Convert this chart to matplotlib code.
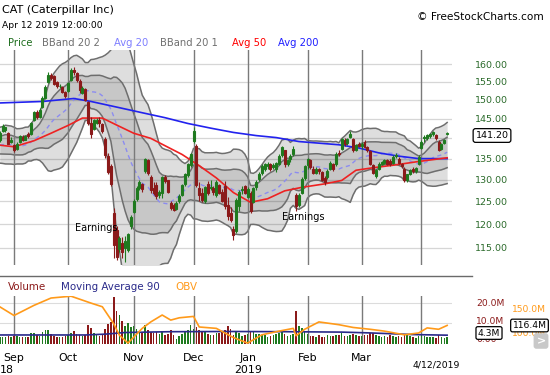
import numpy as np
import pandas as pd
import matplotlib
matplotlib.use('Agg')
import matplotlib.pyplot as plt
from matplotlib.lines import Line2D
from matplotlib.ticker import FixedLocator, NullLocator

W, H = 550, 375

# closes before the window, only used to seed the 20 day bands
lead_closes = [141.0, 139.6, 139.9, 140.2, 140.8, 141.6, 140.3, 138.5, 136.3, 134.6,
               136.0, 133.4, 136.6, 137.6, 138.0, 139.0, 137.8, 136.6, 138.2]

# daily OHLC, Aug 27 2018 .. Apr 12 2019
opens = [139.5, 143.2, 142.8, 141.4, 139.6, 138.3, 137.3, 139.0, 140.4, 139.7,
         141.2, 141.0, 144.8, 146.8, 145.6, 148.0, 150.5, 155.0, 156.0, 156.6,
         154.8, 153.8, 153.5, 151.0, 152.4, 155.5, 158.3, 157.4, 155.3, 152.0,
         153.0, 149.5, 143.8, 142.5, 144.0, 144.6, 143.6, 139.8, 135.6, 133.2,
         122.5, 118.8, 114.8, 116.0, 115.0, 114.6, 119.6, 122.6, 125.6, 128.0,
         127.8, 132.0, 134.6, 130.5, 128.0, 128.8, 126.4, 127.0, 130.6, 129.8,
         124.6, 124.2, 123.4, 125.0, 126.5, 129.0, 131.0, 133.4, 141.8, 138.0,
         128.0, 127.0, 125.2, 129.0, 128.2, 128.0, 126.4, 128.8, 127.2, 128.6,
         124.2, 122.4, 119.0, 118.6, 124.0, 127.6, 128.4, 126.0, 127.0, 124.8,
         128.2, 130.2, 131.6, 132.6, 133.2, 133.6, 133.4, 132.4, 133.6, 135.8,
         137.0, 133.8, 134.8, 136.0, 126.4, 124.2, 127.0, 130.4, 133.4, 134.6,
         132.6, 131.6, 132.0, 131.8, 130.4, 130.6, 132.6, 133.6, 133.6, 136.4,
         137.4, 139.6, 138.8, 140.4, 139.8, 137.0, 138.6, 138.0, 139.0, 137.9,
         136.8, 133.4, 130.8, 132.4, 133.8, 134.0, 134.6, 134.4, 134.0, 135.8,
         135.0, 133.6, 132.6, 129.8, 131.4, 132.6, 132.0, 133.6, 137.6, 140.4,
         140.0, 140.6, 141.0, 140.8, 139.2, 137.4, 138.8, 141.2]
highs = [141.8, 143.6, 143.0, 141.7, 140.4, 138.6, 139.0, 140.9, 140.8, 140.9,
         141.6, 144.2, 147.0, 147.2, 147.8, 151.0, 154.0, 157.6, 157.5, 156.8,
         155.2, 154.3, 153.8, 152.4, 155.0, 158.9, 159.2, 157.8, 155.7, 153.8,
         153.2, 149.8, 145.5, 145.0, 145.2, 145.4, 144.0, 140.4, 136.4, 133.8,
         123.5, 119.5, 117.5, 117.2, 117.5, 118.2, 122.0, 125.6, 128.6, 129.8,
         129.2, 135.2, 135.0, 131.0, 129.5, 129.5, 127.6, 130.8, 131.0, 130.0,
         125.2, 124.6, 125.0, 126.6, 129.0, 131.6, 134.0, 136.4, 142.9, 138.6,
         129.5, 128.0, 128.6, 129.6, 129.8, 128.6, 129.8, 129.0, 127.8, 129.6,
         126.0, 123.8, 119.6, 125.8, 127.6, 128.6, 128.8, 128.2, 127.3, 128.3,
         129.8, 131.8, 133.6, 133.9, 134.2, 134.0, 134.0, 134.2, 136.0, 138.2,
         137.2, 135.0, 136.0, 138.0, 127.0, 126.8, 130.6, 133.4, 135.2, 135.0,
         133.2, 133.0, 132.8, 132.0, 130.8, 132.4, 134.4, 134.0, 136.6, 137.0,
         140.2, 140.0, 140.2, 141.8, 140.0, 138.6, 139.0, 139.0, 139.6, 138.2,
         137.0, 133.6, 132.4, 134.2, 134.4, 134.8, 135.0, 135.0, 135.8, 136.4,
         135.4, 134.0, 133.0, 131.4, 132.6, 133.0, 133.0, 135.8, 139.6, 140.8,
         141.2, 141.4, 141.8, 141.0, 139.6, 138.8, 139.8, 141.6]
lows = [139.2, 141.5, 141.6, 138.6, 138.8, 136.5, 137.0, 138.8, 139.3, 139.5,
        140.0, 140.8, 144.5, 145.0, 145.3, 147.8, 150.3, 154.6, 155.6, 154.0,
        153.4, 153.2, 152.0, 150.6, 152.2, 155.3, 157.0, 155.0, 152.0, 151.6,
        149.6, 143.5, 140.2, 142.0, 143.6, 143.0, 141.3, 135.2, 131.4, 128.4,
        113.0, 112.5, 114.2, 113.0, 112.2, 114.2, 119.0, 122.4, 125.2, 127.5,
        127.2, 131.6, 131.0, 126.8, 126.5, 125.5, 125.8, 125.8, 129.2, 126.8,
        123.0, 122.8, 123.0, 124.6, 126.2, 128.5, 130.6, 133.0, 138.8, 128.2,
        125.0, 124.8, 124.6, 126.4, 127.6, 126.4, 126.0, 126.6, 124.8, 123.4,
        121.0, 120.4, 116.6, 118.2, 122.8, 126.6, 126.6, 125.8, 122.5, 124.6,
        127.6, 129.6, 131.0, 132.0, 132.4, 132.0, 132.6, 131.8, 133.4, 135.4,
        133.0, 133.2, 134.2, 135.6, 122.8, 123.8, 126.6, 130.0, 132.4, 132.6,
        131.2, 131.2, 131.4, 129.6, 128.8, 130.2, 132.2, 132.0, 133.2, 135.6,
        137.0, 138.2, 138.4, 140.2, 136.6, 136.8, 137.8, 137.4, 137.6, 136.6,
        133.4, 131.2, 130.4, 132.2, 133.4, 133.6, 133.4, 133.2, 133.8, 135.2,
        133.6, 132.8, 129.4, 129.4, 131.0, 131.6, 131.6, 133.4, 137.4, 139.2,
        139.6, 140.0, 140.6, 139.6, 136.8, 137.2, 138.6, 140.8]
closes = [141.3, 141.9, 142.0, 138.6, 139.1, 137.0, 138.7, 140.5, 139.7, 140.6,
          140.5, 144.0, 146.7, 145.5, 147.4, 150.6, 153.6, 157.0, 156.9, 154.4,
          153.7, 153.9, 152.3, 152.2, 154.6, 158.4, 157.6, 155.5, 152.6, 153.4,
          150.0, 144.0, 141.0, 144.6, 144.8, 143.8, 141.8, 135.8, 131.8, 129.0,
          115.5, 113.2, 117.0, 114.2, 116.5, 117.8, 121.6, 125.2, 128.0, 129.4,
          128.9, 134.8, 131.6, 127.5, 127.0, 126.2, 127.2, 130.5, 129.6, 127.2,
          123.6, 123.0, 124.7, 126.3, 128.7, 131.3, 133.6, 136.0, 139.3, 128.8,
          126.4, 125.4, 128.2, 127.0, 128.0, 127.2, 129.4, 127.0, 125.2, 124.0,
          121.8, 120.8, 117.6, 125.4, 127.2, 127.8, 127.0, 127.9, 122.9, 128.0,
          129.5, 131.4, 133.2, 133.6, 133.8, 132.6, 133.0, 134.0, 135.6, 137.8,
          133.6, 134.6, 135.6, 137.4, 124.0, 126.4, 130.2, 133.2, 134.9, 133.0,
          131.6, 132.6, 132.4, 130.0, 129.4, 132.0, 134.0, 132.4, 136.2, 136.0,
          139.8, 138.6, 139.8, 141.2, 137.2, 138.4, 138.0, 138.6, 137.9, 137.0,
          133.8, 131.6, 132.2, 133.8, 134.2, 134.6, 133.8, 133.6, 135.4, 135.6,
          134.0, 133.2, 129.8, 131.2, 132.2, 132.0, 132.8, 135.5, 139.2, 140.2,
          140.8, 141.0, 141.5, 140.2, 137.2, 138.6, 139.6, 141.2]
# volume, millions of shares
volume = [3.6, 3.2, 3.4, 3.8, 3.3, 4.0, 3.8, 3.5, 3.4, 3.2,
          3.6, 5.2, 5.6, 4.2, 3.8, 6.0, 7.0, 6.8, 5.0, 4.0,
          3.5, 3.3, 3.6, 3.8, 4.5, 5.2, 6.5, 4.8, 4.2, 3.8,
          4.6, 9.5, 8.0, 5.5, 4.2, 4.0, 4.5, 7.5, 9.8, 10.5,
          23.0, 16.0, 14.0, 11.0, 9.0, 10.0, 8.5, 9.0, 7.5, 6.0,
          5.5, 9.5, 7.0, 6.0, 5.5, 5.8, 5.0, 6.5, 4.5, 4.8,
          7.0, 4.5, 2.5, 4.0, 4.8, 6.5, 6.8, 9.2, 7.5, 8.5,
          7.0, 6.2, 5.8, 5.0, 4.5, 4.6, 5.2, 5.5, 6.0, 7.0,
          8.8, 7.5, 4.2, 5.8, 5.5, 4.0, 4.5, 5.0, 6.5, 6.0,
          5.0, 4.8, 4.5, 4.2, 3.5, 4.0, 4.3, 5.0, 5.6, 6.8,
          5.0, 4.0, 4.2, 4.8, 16.0, 9.0, 7.8, 6.2, 5.0, 4.0,
          3.8, 3.5, 4.2, 3.6, 3.2, 4.4, 4.0, 3.8, 4.6, 4.2,
          5.5, 4.0, 3.8, 4.6, 5.0, 4.2, 3.9, 4.0, 4.6, 4.4,
          5.6, 5.2, 4.6, 4.0, 3.6, 3.8, 3.5, 4.2, 3.8, 3.4,
          3.8, 3.6, 4.8, 4.4, 3.8, 3.2, 3.0, 3.8, 4.5, 3.8,
          3.6, 3.4, 3.2, 3.0, 4.2, 3.2, 3.0, 3.2]

ma50_idx = [0, 5, 12, 18, 24, 29, 36, 41, 47, 53, 59, 64, 70, 76, 82, 88, 94,
            100, 106, 114, 120, 125, 131, 138, 147, 157]
ma50_val = [138.3, 137.9, 139.4, 141.3, 143.3, 145.2, 145.2, 143.4, 141.3, 140.0,
            137.8, 136.0, 133.3, 130.4, 127.0, 124.8, 125.6, 127.4, 128.2, 129.0,
            129.8, 132.2, 132.8, 133.4, 134.3, 135.2]
ma200_idx = [0, 15, 26, 32, 38, 44, 50, 58, 66, 74, 82, 90, 97, 105, 112, 119,
             126, 133, 140, 147, 157]
ma200_val = [149.2, 149.6, 150.4, 149.6, 148.6, 147.6, 146.6, 145.3, 143.8, 142.6,
             141.5, 140.7, 140.2, 139.2, 138.8, 138.4, 137.6, 136.4, 135.6, 135.0, 135.0]

vol_ma_idx = [0, 30, 37, 44, 60, 80, 100, 120, 130, 145, 157]
vol_ma_val = [4.4, 4.4, 4.8, 5.6, 6.0, 6.1, 6.0, 5.8, 5.4, 4.6, 4.3]
obv_idx = [0, 5, 12, 18, 25, 32, 36, 40, 42, 45, 50, 53, 57, 60, 63, 68, 70,
           76, 82, 87, 92, 98, 103, 104, 107, 112, 119, 124, 130, 135, 142, 147,
           150, 154, 157]
obv_val = [157, 138, 160, 176, 180, 165, 157, 120, 95, 78, 110, 124, 139, 128,
           133, 136, 113, 110, 90, 78, 96, 104, 110, 94, 108, 124, 118, 112, 108,
           104, 96, 100, 111, 108, 116.4]

month_idx = [5, 24, 47, 68, 87, 108, 127, 148]
month_names = ['Sep', 'Oct', 'Nov', 'Dec', 'Jan', 'Feb', 'Mar', '']
price_ticks = [115, 120, 125, 130, 135, 145, 150, 155, 160]

GREEN = '#1f7a1f'
RED = '#8b1a1a'
n = len(closes)
x = np.arange(n)
o = np.array(opens); c = np.array(closes)
hi = np.array(highs); lo = np.array(lows)
prev = np.array([lead_closes[-1]] + closes[:-1])
cols = np.where(c >= prev, GREEN, RED)
faces = np.where(c >= o, 'none', cols)

allc = pd.Series(lead_closes + closes)
mid = allc.rolling(20).mean().values[-n:]
sd = allc.rolling(20).std(ddof=0).values[-n:]

fig = plt.figure(figsize=(5.5, 3.75), dpi=100)
fig.patch.set_facecolor('white')


def px_axes(x0, y0, x1, y1):
    return fig.add_axes([x0 / W, 1 - y1 / H, (x1 - x0) / W, (y1 - y0) / H])


def ftext(px, py, s, **kw):
    kw.setdefault('va', 'center')
    return fig.text(px / W, 1 - py / H, s, **kw)


XL = (0.088, 158.6)

# ---- price panel
ax = px_axes(0, 50, 451.7, 265)
ax.set_yscale('log')
ax.set_ylim(111.5, 164.1)
ax.set_xlim(*XL)
for s in ax.spines.values():
    s.set_visible(False)
ax.set_xticks([])
ax.yaxis.tick_right()
ax.yaxis.set_major_locator(FixedLocator(price_ticks))
ax.yaxis.set_minor_locator(NullLocator())
ax.set_yticklabels([f'{p:.2f}' for p in price_ticks])
ax.tick_params(axis='y', length=0, pad=16.8, labelsize=6.8, labelcolor='#2a6a2a')
for p in price_ticks + [140]:
    ax.axhline(p, color='#d6d6d6', lw=0.9, zorder=0)

ax.fill_between(x, mid - 2 * sd, mid + 2 * sd, color='black', alpha=0.13, lw=0, zorder=1)
ax.fill_between(x, mid - sd, mid + sd, color='black', alpha=0.10, lw=0, zorder=1)
for k in (-2, -1, 1, 2):
    ax.plot(x, mid + k * sd, color='#6e6e6e', lw=1.1, zorder=2)
ax.plot(x, mid, color='#8c8cf0', lw=1.0, ls=(0, (3, 2.5)), zorder=2)

for m in month_idx:
    ax.axvline(m, color='#7a7a7a', lw=1.0, zorder=2)

ax.plot(ma200_idx, ma200_val, color='#2222ee', lw=1.2, zorder=3)
ax.plot(ma50_idx, ma50_val, color='#ee2222', lw=1.2, zorder=3)

ax.vlines(x, lo, hi, colors=cols, lw=0.8, zorder=4)
body = np.maximum(np.abs(c - o), 0.15)
ax.bar(x, body, bottom=np.minimum(o, c), width=0.7, color=faces,
       edgecolor=cols, linewidth=0.8, zorder=5)

ax.text(33.8, 119.2, 'Earnings', fontsize=7, ha='center', va='center', zorder=6)
ax.text(106.4, 121.6, 'Earnings', fontsize=7, ha='center', va='center', zorder=6)

ftext(492, 135.5, f'{closes[-1]:.2f}', fontsize=6.8, ha='center',
      bbox=dict(boxstyle='round,pad=0.25', fc='white', ec='black', lw=0.9))

# ---- header
ftext(2, 10, 'CAT (Caterpillar Inc)', fontsize=8)
ftext(2, 25, 'Apr 12 2019 12:00:00', fontsize=6.6)
ftext(417, 17, '\u00a9 FreeStockCharts.com', fontsize=7.6)
legend = [(8, 'Price', '#1e6e1e'), (42, 'BBand 20 2', '#707070'),
          (114, 'Avg 20', '#7f7fff'), (160, 'BBand 20 1', '#707070'),
          (232, 'Avg 50', '#ff0000'), (278, 'Avg 200', '#2020ff')]
for lx, name, col in legend:
    ftext(lx, 43, name, fontsize=7.2, color=col)

fig.add_artist(Line2D([0, 472 / W], [1 - 276 / H] * 2, color='#6a6a6a', lw=1.0))

# ---- volume panel
axv = px_axes(0, 296, 451.7, 344)
axv.set_xlim(*XL)
axv.set_ylim(0, 23.4)
for s in axv.spines.values():
    s.set_visible(False)
axv.set_xticks([])
axv.set_yticks([])
for v in (10, 20):
    axv.axhline(v, color='#dcdcdc', lw=0.8, zorder=0)
for m in month_idx:
    axv.axvline(m, color='#7a7a7a', lw=1.0, zorder=1)
axv.bar(x, volume, width=0.55, color=cols, zorder=2)
axv.plot(vol_ma_idx, vol_ma_val, color='#2a2a8a', lw=1.2, zorder=3)

axo = axv.twinx()
axo.set_ylim(76, 180.4)
axo.set_xlim(*XL)
for s in axo.spines.values():
    s.set_visible(False)
axo.set_yticks([])
axo.plot(obv_idx, obv_val, color='#ff9a1a', lw=1.2, zorder=4)

ftext(8, 287, 'Volume', fontsize=7.4, color='#8b1a1a')
ftext(61, 287, 'Moving Average 90', fontsize=7.4, color='#2a2a8a')
ftext(175, 287, 'OBV', fontsize=7.4, color='#ff9a1a')

ftext(476, 303, '20.0M', fontsize=6.6, color='#8b1a1a')
ftext(476, 321, '10.0M', fontsize=6.6, color='#8b1a1a')
ftext(476, 340, '0.00', fontsize=6.6, color='#8b1a1a')
ftext(512, 310, '150.0M', fontsize=6.6, color='#ff9a1a')
ftext(512, 333, '100.0M', fontsize=6.6, color='#ff9a1a')
ftext(489, 333, f'{vol_ma_val[-1]:.1f}M', fontsize=6.6, ha='center',
      bbox=dict(boxstyle='round,pad=0.2', fc='white', ec='black', lw=0.9))
ftext(529.5, 325.5, f'{obv_val[-1]:.1f}M', fontsize=6.6, ha='center',
      bbox=dict(boxstyle='round,pad=0.2', fc='white', ec='black', lw=0.9))
ftext(541, 341, '>', fontsize=8, color='white', ha='center', weight='bold',
      bbox=dict(boxstyle='round,pad=0.25', fc='#c8c8c8', ec='none'))

# ---- date labels
for m, name in zip(month_idx, month_names):
    if name:
        ftext((m - XL[0]) * 2.85, 358, name, fontsize=7.9, ha='center')
ftext((5 - XL[0]) * 2.85 - 7, 370, '18', fontsize=7.9, ha='center')
ftext((87 - XL[0]) * 2.85, 370, '2019', fontsize=7.9, ha='center')
ftext(436, 365, '4/12/2019', fontsize=6.7, ha='center')

fig.savefig('out.png', dpi=100)
